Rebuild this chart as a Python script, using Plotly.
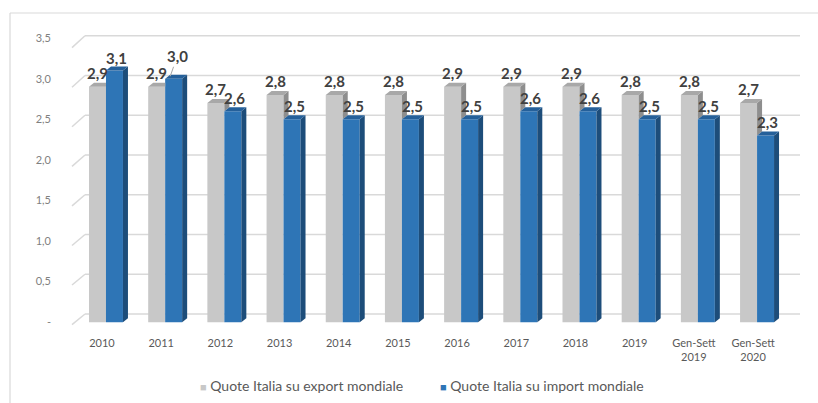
import plotly.graph_objects as go

# Quote di mercato dell'Italia sul commercio mondiale (%)
categories = ["2010", "2011", "2012", "2013", "2014", "2015", "2016", "2017",
              "2018", "2019", "Gen-Sett<br>2019", "Gen-Sett<br>2020"]
export_share = [2.9, 2.9, 2.7, 2.8, 2.8, 2.8, 2.9, 2.9, 2.9, 2.8, 2.8, 2.7]
import_share = [3.1, 3.0, 2.6, 2.5, 2.5, 2.5, 2.5, 2.6, 2.6, 2.5, 2.5, 2.3]
y_ticks = [0, 0.5, 1.0, 1.5, 2.0, 2.5, 3.0, 3.5]
y_ticktext = ["-", "0,5", "1,0", "1,5", "2,0", "2,5", "3,0", "3,5"]
series_names = ["Quote Italia su export mondiale", "Quote Italia su import mondiale"]

W, H = 818, 403
M_L, M_R, M_T, M_B = 72, 13, 30, 76
X_RANGE = [-0.574, 11.81]
Y_RANGE = [-0.06, 3.6]
plot_w = W - M_L - M_R
plot_h = H - M_T - M_B
px_x = plot_w / (X_RANGE[1] - X_RANGE[0])
px_y = plot_h / (Y_RANGE[1] - Y_RANGE[0])

BAR_W = 0.287
DX = 5 / px_x          # depth offset of the 3D faces
DY = 4 / px_y

GRAY = dict(front="#C8C8C8", side="#8E8E8E", top="#A8A8A8")
BLUE = dict(front="#2E75B6", side="#1D4D7A", top="#25609A")
FONT = "Lato, 'Open Sans', sans-serif"

xs = list(range(len(categories)))


def fmt(v):
    return f"{v:.1f}".replace(".", ",")


def poly(points, color):
    path = "M " + " L ".join(f"{x},{y}" for x, y in points) + " Z"
    return dict(type="path", path=path, xref="x", yref="y", layer="above",
                fillcolor=color, line=dict(width=0))


def px_to_paper_x(p):
    return (p - M_L) / plot_w


def px_to_paper_y(p):
    return (H - M_B - p) / plot_h


fig = go.Figure()
fig.add_trace(go.Bar(x=xs, y=export_share, width=BAR_W, offset=-BAR_W,
                     marker=dict(color=GRAY["front"], line=dict(width=0)),
                     name=series_names[0], showlegend=False))
fig.add_trace(go.Bar(x=xs, y=import_share, width=BAR_W, offset=0,
                     marker=dict(color=BLUE["front"], line=dict(width=0)),
                     name=series_names[1], showlegend=False))

shapes = []

# back-wall gridlines with the short perspective connector at the left edge
for v in y_ticks:
    yf = 0.975 * v - 0.03
    yb = 0.98 * v + 0.1
    shapes.append(dict(type="line", xref="paper", yref="y", layer="below",
                       x0=0, y0=yf, x1=px_to_paper_x(85), y1=yb,
                       line=dict(color="#D9D9D9", width=1.5)))
    shapes.append(dict(type="line", xref="paper", yref="y", layer="below",
                       x0=px_to_paper_x(85), y0=yb, x1=px_to_paper_x(800), y1=yb,
                       line=dict(color="#D9D9D9", width=1.5)))

# 3D side and top faces of the bars
for i, (g, b) in enumerate(zip(export_share, import_share)):
    gl, gr = i - BAR_W, i
    bl, br = i, i + BAR_W
    # export bar: side face only where it rises above the import bar
    if g > b:
        shapes.append(poly([(gr, b), (gr + DX, b + DY), (gr + DX, g + DY), (gr, g)], GRAY["side"]))
        shapes.append(poly([(gl, g), (gl + DX, g + DY), (gr + DX, g + DY), (gr, g)], GRAY["top"]))
    else:
        shapes.append(poly([(gl, g), (gl + DX, g + DY), (gr, g + DY), (gr, g)], GRAY["top"]))
    # import bar
    shapes.append(poly([(br, 0), (br + DX, DY), (br + DX, b + DY), (br, b)], BLUE["side"]))
    shapes.append(poly([(bl, b), (bl + DX, b + DY), (br + DX, b + DY), (br, b)], BLUE["top"]))

# outer chart frame (top and left edges)
shapes.append(dict(type="line", xref="paper", yref="paper",
                   x0=px_to_paper_x(10), y0=px_to_paper_y(13),
                   x1=px_to_paper_x(W), y1=px_to_paper_y(13),
                   line=dict(color="#D9D9D9", width=1.2)))
shapes.append(dict(type="line", xref="paper", yref="paper",
                   x0=px_to_paper_x(10), y0=px_to_paper_y(13),
                   x1=px_to_paper_x(10), y1=px_to_paper_y(H),
                   line=dict(color="#D9D9D9", width=1.2)))

annotations = []
label_font = dict(family=FONT, size=15, color="#404040")
for i, (g, b) in enumerate(zip(export_share, import_share)):
    annotations.append(dict(x=i - BAR_W / 2, y=g, xref="x", yref="y", text=f"<b>{fmt(g)}</b>",
                            showarrow=False, yanchor="bottom", yshift=3, font=label_font))
    if b >= 3.0 and b < g + 0.2 and i > 0:
        # label lifted away from the neighbouring export label, with a leader line
        annotations.append(dict(x=i + BAR_W * 0.3, y=b + 0.03, xref="x", yref="y",
                                text=f"<b>{fmt(b)}</b>", showarrow=True, arrowhead=0,
                                arrowwidth=1, arrowcolor="#A6A6A6", ax=7, ay=-20,
                                font=label_font))
    else:
        annotations.append(dict(x=i + BAR_W / 2, y=b, xref="x", yref="y", text=f"<b>{fmt(b)}</b>",
                                showarrow=False, yanchor="bottom", yshift=2, xshift=2,
                                font=label_font))

# legend drawn as text entries below the axis
legend_font = dict(family=FONT, size=14, color="#595959")
legend_items = [(series_names[0], GRAY["front"], 198), (series_names[1], BLUE["front"], 438)]
for name, color, left_px in legend_items:
    annotations.append(dict(xref="paper", yref="paper",
                            x=px_to_paper_x(left_px), y=px_to_paper_y(385),
                            xanchor="left", yanchor="middle", showarrow=False,
                            text=f"<span style='color:{color};font-size:11px'>■</span> {name}",
                            font=legend_font))

fig.update_layout(
    width=W, height=H,
    margin=dict(l=M_L, r=M_R, t=M_T, b=M_B, autoexpand=False),
    paper_bgcolor="white", plot_bgcolor="white",
    barmode="overlay",
    font=dict(family=FONT, color="#595959"),
    shapes=shapes,
    annotations=annotations,
    showlegend=False,
)
fig.update_xaxes(range=X_RANGE, tickmode="array", tickvals=xs, ticktext=categories,
                 showgrid=False, zeroline=False, showline=False, automargin=False,
                 tickfont=dict(size=11, color="#595959"), ticklabelshift=-4,
                 ticklabelstandoff=8)
fig.update_yaxes(range=Y_RANGE, tickmode="array", tickvals=y_ticks, ticktext=y_ticktext,
                 showgrid=False, zeroline=False, showline=False, automargin=False,
                 tickfont=dict(size=11, color="#7F7F7F"), ticklabelstandoff=20)

fig.write_html("out.html")
